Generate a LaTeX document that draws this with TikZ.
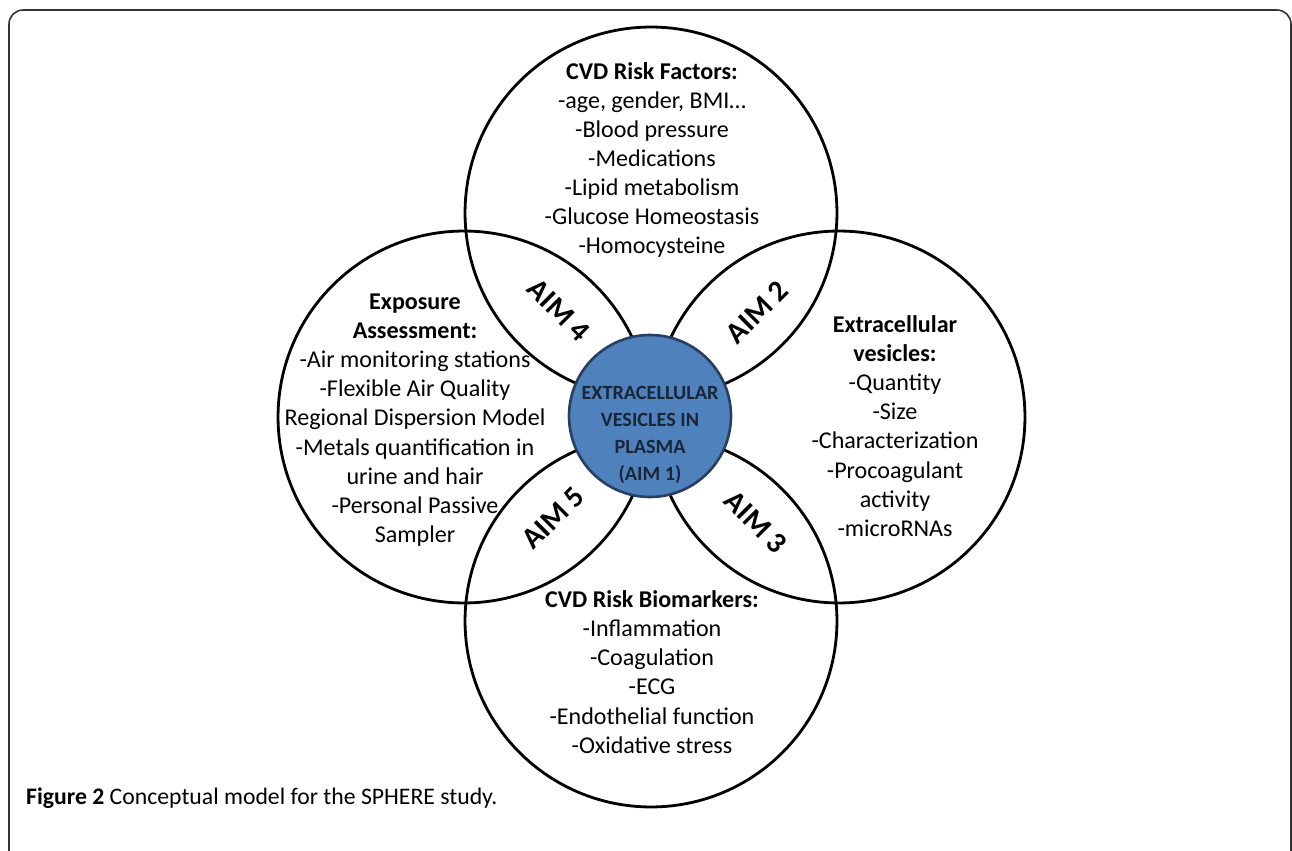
\documentclass[tikz,border=0pt]{standalone}
\usepackage{fontspec}
\setmainfont{Carlito}
\definecolor{evblue}{HTML}{4F81BD}
\definecolor{evedge}{HTML}{263F63}
\definecolor{evink}{HTML}{1A2638}
\begin{document}
\begin{tikzpicture}[x=0.02cm, y=-0.02cm,
	ring/.style={circle, draw, line width=1.6pt, minimum size=7.44cm, inner sep=0pt},
	list/.style={align=center, inner sep=1pt, font=\fontsize{13.7}{16.6}\selectfont},
	aim/.style={inner sep=0pt, font=\fontsize{17}{19}\selectfont\bfseries}]
	\useasboundingbox (0,0) rectangle (1292,851);
	\draw [line width=0.9pt, black!80, rounded corners=8pt] (9,851) -- (9,10) -- (1291,10) -- (1291,851);
	% the four outer circles
	\node [ring] (risk) at (651,213) {};
	\node [ring] (expo) at (464,417) {};
	\node [ring] (vesic) at (839,417) {};
	\node [ring] (marker) at (651,621) {};
	% centre
	\node [circle, draw=evedge, fill=evblue, line width=1.5pt, minimum size=3.24cm, inner sep=0pt] (ev) at (650,416) {};
	\node [align=center, text=evink, font=\fontsize{11.5}{15.3}\selectfont\bfseries] (evlabel) at (650,435) {EXTRACELLULAR\\VESICLES IN\\PLASMA\\(AIM 1)};
	% texts
	\node [list] (risklist) at (652,160) {\textbf{CVD Risk Factors:}\\-age, gender, BMI…\\-Blood pressure\\-Medications\\-Lipid metabolism\\-Glucose Homeostasis\\-Homocysteine};
	\node [list] (expolist) at (415,420) {\textbf{Exposure}\\\textbf{Assessment:}\\-Air monitoring stations\\-Flexible Air Quality\\Regional Dispersion Model\\-Metals quantification in\\urine and hair\\-Personal Passive\\Sampler};
	\node [list] (vesiclist) at (895,426) {\textbf{Extracellular}\\\textbf{vesicles:}\\-Quantity\\-Size\\-Characterization\\-Procoagulant\\activity\\-microRNAs};
	\node [list] (markerlist) at (652,672) {\textbf{CVD Risk Biomarkers:}\\-Inflammation\\-Coagulation\\-ECG\\-Endothelial function\\-Oxidative stress};
	% aims in the overlaps
	\node [aim, rotate=-45] (aimfour) at (559,310) {AIM 4};
	\node [aim, rotate=45] (aimtwo) at (757,312) {AIM 2};
	\node [aim, rotate=-45] (aimthree) at (756,522) {AIM 3};
	\node [aim, rotate=45] (aimfive) at (553,518) {AIM 5};
	\node [anchor=base west, font=\fontsize{13.5}{15}\selectfont] (caption) at (20,804) {\textbf{Figure 2} Conceptual model for the SPHERE study.};
\end{tikzpicture}
\end{document}
